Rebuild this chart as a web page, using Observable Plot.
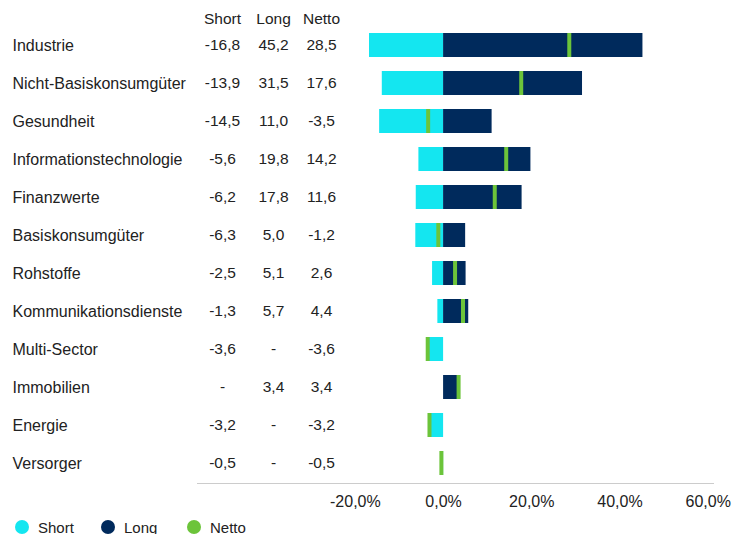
<!DOCTYPE html>
<html>
<head>
<meta charset="utf-8">
<script src="https://cdn.jsdelivr.net/npm/d3@7"></script>
<script src="https://cdn.jsdelivr.net/npm/@observablehq/plot@0.6"></script>
<style>
  html, body { margin: 0; padding: 0; background: #fff; }
  body { width: 742px; font-family: "Liberation Sans", Arial, sans-serif; }
  #legend { display: flex; height: 28px; align-items: center; padding-left: 15px; font-size: 15px; color: #222; }
  .item { display: flex; align-items: center; width: 86px; }
  .dot { width: 14px; height: 14px; border-radius: 50%; margin-right: 9px; }
</style>
</head>
<body>
<div id="chart"></div>
<div id="legend"></div>
<script>
const categories = ["Industrie", "Nicht-Basiskonsumgüter", "Gesundheit", "Informationstechnologie", "Finanzwerte", "Basiskonsumgüter", "Rohstoffe", "Kommunikationsdienste", "Multi-Sector", "Immobilien", "Energie", "Versorger"];
const shortVals = [-16.8, -13.9, -14.5, -5.6, -6.2, -6.3, -2.5, -1.3, -3.6, null, -3.2, -0.5];
const longVals = [45.2, 31.5, 11.0, 19.8, 17.8, 5.0, 5.1, 5.7, null, 3.4, null, null];
const nettoVals = [28.5, 17.6, -3.5, 14.2, 11.6, -1.2, 2.6, 4.4, -3.6, 3.4, -3.2, -0.5];
const xTicks = [-20, 0, 20, 40, 60];
const headers = ["Short", "Long", "Netto"];

const colors = { Short: "#14E6F0", Long: "#002A5C", Netto: "#6CC43A" };
const textColor = "#222";

const rows = categories.map((c, i) => ({ cat: c, short: shortVals[i], long: longVals[i], netto: nettoVals[i] }));
const fmt = v => v == null ? "-" : v.toFixed(1).replace(".", ",");
const colDx = { Short: 25, Long: 76, Netto: 124 };

const chart = Plot.plot({
  width: 742,
  height: 513,
  marginLeft: 197,
  marginRight: 29,
  marginTop: 24,
  marginBottom: 30,
  style: { fontFamily: "Liberation Sans, Arial, sans-serif", fontSize: "16px", color: textColor, background: "#fff" },
  x: { domain: [-55.8, 61.2], ticks: xTicks, tickFormat: d => d.toFixed(1).replace(".", ",") + "%", label: null, tickSize: 0, tickPadding: 12 },
  y: { domain: categories, paddingInner: 0.37, paddingOuter: 0.21, axis: null },
  marks: [
    Plot.barX(rows.filter(d => d.short != null), { x1: 0, x2: "short", y: "cat", fill: colors.Short }),
    Plot.barX(rows.filter(d => d.long != null), { x1: 0, x2: "long", y: "cat", fill: colors.Long }),
    Plot.tickX(rows, { x: "netto", y: "cat", stroke: colors.Netto, strokeWidth: 4 }),
    Plot.frame({ anchor: "bottom", stroke: "#ccc" }),
    Plot.text(rows, { y: "cat", text: "cat", frameAnchor: "left", dx: -185, textAnchor: "start", fill: textColor, fontSize: 16 }),
    Plot.text(rows, { y: "cat", text: d => fmt(d.short), frameAnchor: "left", dx: colDx.Short, textAnchor: "middle", fill: textColor, fontSize: 15.5 }),
    Plot.text(rows, { y: "cat", text: d => fmt(d.long), frameAnchor: "left", dx: colDx.Long, textAnchor: "middle", fill: textColor, fontSize: 15.5 }),
    Plot.text(rows, { y: "cat", text: d => fmt(d.netto), frameAnchor: "left", dx: colDx.Netto, textAnchor: "middle", fill: textColor, fontSize: 15.5 }),
    ...headers.map(h => Plot.text([h], { text: d => d, frameAnchor: "top-left", dx: colDx[h], dy: -5, textAnchor: "middle", lineAnchor: "middle", fill: textColor, fontSize: 15.5 }))
  ]
});
document.getElementById("chart").appendChild(chart);

const legend = document.getElementById("legend");
headers.forEach(h => {
  const item = document.createElement("div");
  item.className = "item";
  const dot = document.createElement("span");
  dot.className = "dot";
  dot.style.background = colors[h];
  const lab = document.createElement("span");
  lab.textContent = h;
  item.appendChild(dot);
  item.appendChild(lab);
  legend.appendChild(item);
});
</script>
</body>
</html>
